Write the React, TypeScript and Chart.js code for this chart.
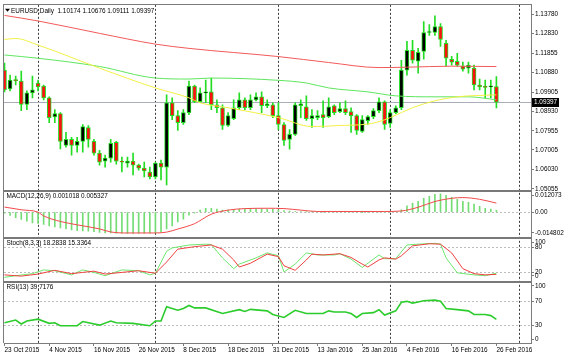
import { useEffect, useRef } from 'react';
import { Chart, registerables } from 'chart.js';

Chart.register(...registerables);

const FONT = '"Liberation Sans", Arial, sans-serif';
const FONT_SIZE = 6.4;

// Bars: 0 = 23 Oct 2015 ... 88 = 26 Feb 2016
const dateTickBars = [0, 8, 16, 24, 32, 40, 48, 56, 64, 72, 80, 88];
const dateTickLabels = ['23 Oct 2015', '4 Nov 2015', '16 Nov 2015', '26 Nov 2015', '8 Dec 2015', '18 Dec 2015', '31 Dec 2015', '13 Jan 2016', '25 Jan 2016', '4 Feb 2016', '16 Feb 2016', '26 Feb 2016'];
const monthSeparatorBars = [6, 27, 49, 69, 92];

const opens = [1.11003, 1.1006, 1.10507, 1.10457, 1.09282, 1.09862, 1.10358, 1.10209, 1.09614, 1.08657, 1.0882, 1.07233, 1.0753, 1.07233, 1.07432, 1.08126, 1.07432, 1.06838, 1.0644, 1.06589, 1.07382, 1.0644, 1.0634, 1.0644, 1.06241, 1.06092, 1.05894, 1.05646, 1.0634, 1.06142, 1.09366, 1.08721, 1.08374, 1.0887, 1.10209, 1.09416, 1.09862, 1.09912, 1.09267, 1.09118, 1.08225, 1.08573, 1.09118, 1.09515, 1.09118, 1.09515, 1.09664, 1.09217, 1.09267, 1.08721, 1.08275, 1.0753, 1.07778, 1.09217, 1.09168, 1.08574, 1.08622, 1.08771, 1.08672, 1.09217, 1.0892, 1.09069, 1.0892, 1.08721, 1.07928, 1.08474, 1.08672, 1.0897, 1.09416, 1.08326, 1.0887, 1.09118, 1.11003, 1.11995, 1.11449, 1.11945, 1.12888, 1.12888, 1.13185, 1.12342, 1.11548, 1.11449, 1.11201, 1.11102, 1.11102, 1.10259, 1.1016, 1.1016, 1.10174];
const highs = [1.1135, 1.10755, 1.10705, 1.10953, 1.09961, 1.10705, 1.10507, 1.10259, 1.09664, 1.09019, 1.0887, 1.07878, 1.0763, 1.0763, 1.08275, 1.08225, 1.0753, 1.06985, 1.06738, 1.0753, 1.0743, 1.06638, 1.06638, 1.06838, 1.06291, 1.0639, 1.06142, 1.0639, 1.0649, 1.09763, 1.09614, 1.08969, 1.09019, 1.10457, 1.10259, 1.1011, 1.10507, 1.10606, 1.09515, 1.09267, 1.0887, 1.09515, 1.09862, 1.09614, 1.09763, 1.09862, 1.09912, 1.09515, 1.09366, 1.09366, 1.08374, 1.08027, 1.09366, 1.09515, 1.09713, 1.09019, 1.08969, 1.09465, 1.09614, 1.09267, 1.09366, 1.09465, 1.09118, 1.08771, 1.08721, 1.08721, 1.09069, 1.09614, 1.09465, 1.09019, 1.09217, 1.11498, 1.12441, 1.12491, 1.12094, 1.13433, 1.13284, 1.13731, 1.13334, 1.12491, 1.11697, 1.11846, 1.114, 1.114, 1.11251, 1.10556, 1.10507, 1.10507, 1.10676];
const lows = [1.09912, 1.09961, 1.10259, 1.08969, 1.09019, 1.09614, 1.09961, 1.09515, 1.08374, 1.08374, 1.0705, 1.07134, 1.06738, 1.06886, 1.06886, 1.07134, 1.06738, 1.06241, 1.06142, 1.0639, 1.06291, 1.05894, 1.06142, 1.05745, 1.05993, 1.05646, 1.05546, 1.05546, 1.05497, 1.05249, 1.08523, 1.07978, 1.08275, 1.08771, 1.09366, 1.09366, 1.09366, 1.09019, 1.0887, 1.08027, 1.08175, 1.08523, 1.09019, 1.09019, 1.09019, 1.09465, 1.0887, 1.09118, 1.08622, 1.08027, 1.07233, 1.07035, 1.07729, 1.08622, 1.08475, 1.08126, 1.08523, 1.08126, 1.08622, 1.08771, 1.0887, 1.08771, 1.07878, 1.07778, 1.07878, 1.08275, 1.08573, 1.0887, 1.08027, 1.08126, 1.0882, 1.09019, 1.10755, 1.1135, 1.10854, 1.11548, 1.12739, 1.12739, 1.12193, 1.11201, 1.11251, 1.11201, 1.10953, 1.10854, 1.10011, 1.10011, 1.09614, 1.09614, 1.09111];
const closes = [1.10011, 1.10507, 1.1048, 1.09282, 1.09862, 1.10011, 1.1016, 1.09614, 1.08622, 1.0882, 1.07432, 1.0753, 1.07233, 1.07432, 1.08176, 1.0753, 1.06838, 1.0639, 1.06589, 1.07332, 1.0644, 1.0639, 1.0644, 1.06241, 1.06092, 1.05944, 1.05646, 1.0634, 1.06142, 1.09366, 1.08721, 1.08374, 1.0887, 1.10209, 1.09416, 1.09862, 1.09912, 1.09267, 1.09118, 1.08225, 1.08721, 1.09118, 1.09515, 1.09118, 1.09515, 1.09664, 1.09217, 1.09316, 1.08721, 1.08275, 1.07481, 1.07778, 1.09267, 1.09316, 1.08574, 1.08723, 1.08723, 1.08622, 1.09168, 1.0887, 1.09069, 1.0887, 1.08721, 1.07978, 1.08523, 1.08672, 1.0897, 1.09416, 1.08275, 1.0887, 1.09118, 1.11003, 1.11995, 1.11498, 1.11896, 1.12888, 1.12937, 1.13185, 1.1254, 1.11598, 1.114, 1.11251, 1.11052, 1.11251, 1.10259, 1.1016, 1.10135, 1.10174, 1.09397];

// Moving averages: [bar, price]
const maRed = [[0, 1.13746], [6, 1.13468], [17, 1.12846], [27, 1.12307], [33, 1.12094], [49, 1.11682], [58, 1.11385], [67, 1.1113], [72, 1.1115], [80, 1.112], [88, 1.1118]];
const maYellow = [[0, 1.1254], [2, 1.1259], [6, 1.12258], [17, 1.11102], [27, 1.1011], [33, 1.09614], [35, 1.09366], [40, 1.09118], [49, 1.08622], [55, 1.08176], [60, 1.08225], [65, 1.083], [67, 1.0842], [69, 1.08622], [73, 1.09118], [77, 1.09465], [81, 1.09664], [88, 1.09763]];
const maGreen = [[0, 1.11762], [6, 1.11598], [17, 1.11186], [27, 1.10606], [33, 1.10556], [37, 1.10606], [49, 1.10492], [54, 1.10358], [58, 1.1011], [65, 1.09912], [70, 1.09713], [77, 1.09664], [83, 1.09664], [88, 1.09515]];

const macdMain = [-0.0006, -0.0019, -0.0033, -0.0043, -0.0053, -0.0063, -0.0067, -0.0072, -0.0082, -0.0088, -0.0093, -0.0099, -0.0105, -0.0109, -0.0111, -0.0112, -0.0116, -0.012, -0.0122, -0.0123, -0.0124, -0.0124, -0.0125, -0.0125, -0.0124, -0.0124, -0.0123, -0.0122, -0.0117, -0.0099, -0.0082, -0.0058, -0.0041, -0.0018, -0.0006, 0.0012, 0.0023, 0.0023, 0.0018, 0.0012, 0.0012, 0.0015, 0.0018, 0.002, 0.0021, 0.002, 0.0019, 0.0018, 0.0016, 0.0014, 0.001, 0.0006, 0.0004, 0.0003, 0.0002, 0.0001, 0.0001, 0.0, 0.0001, 0.0001, 0.0002, 0.0002, 0.0001, 0.0, -0.0001, 0.0, 0.0001, 0.0002, 0.0001, 0.0002, 0.0004, 0.0014, 0.0037, 0.0053, 0.0064, 0.0082, 0.0093, 0.0105, 0.0108, 0.0099, 0.0088, 0.0076, 0.0064, 0.0058, 0.0047, 0.0035, 0.0023, 0.0018, 0.001018];
const macdSignal = [[0, 0.003], [3, 0.0014], [6, 0.0], [7, -0.0022], [10, -0.0055], [13, -0.0075], [17, -0.0099], [19, -0.0117], [22, -0.0123], [27, -0.0123], [29, -0.0118], [31, -0.01], [34, -0.0068], [37, -0.0012], [40, 0.0012], [43, 0.0021], [47, 0.0023], [50, 0.0021], [53, 0.0012], [56, 0.0004], [68, 0.0004], [71, 0.0007], [74, 0.0029], [77, 0.0063], [80, 0.0082], [82, 0.0086], [85, 0.0076], [88, 0.005327]];

const stochMain = [[0, 8], [2, 12], [5, 17], [7, 26], [9, 24], [12, 14], [14, 26], [16, 20], [18, 12], [21, 26], [24, 24], [26, 14], [27, 18], [29, 71], [30, 79], [33, 86], [36, 88], [37, 87], [39, 55], [41, 29], [42, 40], [45, 55], [47, 67], [49, 60], [50, 21], [52, 40], [54, 67], [56, 62], [59, 62], [60, 65], [62, 52], [64, 32], [67, 62], [68, 53], [70, 53], [72, 86], [74, 88], [77, 90], [78, 88], [79, 55], [81, 19], [84, 14], [86, 12], [88, 18.2838]];
const stochSignal = [[0, 14], [3, 11], [6, 16], [9, 25], [12, 17], [14, 20], [16, 23], [18, 16], [21, 20], [24, 24], [27, 18], [29, 45], [31, 76], [34, 82], [37, 86], [39, 76], [41, 50], [42, 33], [44, 42], [47, 64], [49, 58], [50, 36], [52, 25], [54, 50], [55, 64], [57, 62], [60, 65], [62, 56], [64, 40], [65, 33], [67, 50], [68, 55], [70, 52], [71, 60], [73, 84], [76, 89], [78, 88], [80, 67], [82, 29], [84, 17], [86, 14], [88, 15.3364]];

const rsi = [[0, 34], [2, 38.5], [3, 32], [4, 37], [6, 40], [8, 33], [9, 34], [10, 29], [13, 29], [14, 36], [17, 30], [19, 37], [20, 34], [23, 33], [26, 29], [27, 37], [28, 37], [29, 61], [30, 58], [31, 55], [32, 58], [33, 63], [34, 59], [36, 59], [39, 49.5], [42, 56], [43, 53], [44, 56.5], [47, 54], [48, 48], [50, 43], [52, 55], [54, 49.5], [57, 49.5], [58, 54], [59, 52], [61, 52], [62, 49.5], [63, 43], [64, 49.5], [66, 51], [67, 56], [68, 47], [70, 54], [71, 68.5], [72, 70], [73, 67], [74, 69], [75, 71], [77, 72], [78, 70], [79, 58], [81, 56], [83, 54], [84, 48], [86, 48], [87, 46], [88, 39.7176]];

// Axis labels (value where MT4 places each label, and its text)
const priceTicks = [1.1378, 1.1283, 1.11855, 1.1088, 1.09905, 1.0893, 1.07955, 1.07005, 1.0603, 1.05055];
const macdTickPos = [0.00974, 0, -0.01229];
const macdTickText = ['0.012073', '0.00', '-0.014802'];
const stochTickPos = [92.9, 80, 20, 11.9];
const stochTickText = ['100', '80', '20', '0'];
const rsiTickPos = [95.8, 70, 30, 6.1];
const rsiTickText = ['100', '70', '30', '0'];

const levelLines: [string, number][] = [['yMacd', 0], ['yStoch', 80], ['yStoch', 20], ['yRsi', 70], ['yRsi', 30]];

const mainTitle = 'EURUSD,Daily  1.10174 1.10676 1.09111 1.09397';
const macdTitle = 'MACD(12,26,9) 0.001018 0.005327';
const stochTitle = 'Stoch(8,3,3) 18.2838 15.3364';
const rsiTitle = 'RSI(13) 39.7176';

const pts = (arr: number[][]) => arr.map(([x, y]) => ({ x, y }));

const AXIS_GRAY = '#7c7c7c';
const CANDLE_GREEN = '#22dd22';

function yAxis(weight: number, min: number, max: number, pos: number[], text: string[]) {
  return {
    type: 'linear',
    position: 'right',
    stack: 'panels',
    stackWeight: weight,
    min,
    max,
    afterBuildTicks: (s: any) => { s.ticks = pos.map((v) => ({ value: v })); },
    afterFit: (s: any) => { s.width = 39; },
    ticks: {
      autoSkip: false,
      padding: 1,
      color: '#000',
      font: { family: FONT, size: FONT_SIZE },
      callback: (_v: any, i: number) => text[i],
    },
    grid: { drawOnChartArea: false, drawTicks: true, tickLength: 3, tickColor: AXIS_GRAY },
    border: { color: AXIS_GRAY, width: 1 },
  };
}

const decor = {
  id: 'mt4decor',
  beforeDatasetsDraw(chart: any) {
    const { ctx, chartArea: a, scales } = chart;
    ctx.save();
    ctx.lineWidth = 1;
    // period separators
    ctx.strokeStyle = '#3a3a3a';
    ctx.setLineDash([2, 2]);
    monthSeparatorBars.forEach((b) => {
      const x = Math.round(scales.x.getPixelForValue(b)) + 0.5;
      ctx.beginPath();
      ctx.moveTo(x, a.top);
      ctx.lineTo(x, a.bottom);
      ctx.stroke();
    });
    // indicator levels
    ctx.strokeStyle = '#bdbdbd';
    levelLines.forEach(([id, v]) => {
      const y = Math.round(scales[id].getPixelForValue(v)) + 0.5;
      ctx.beginPath();
      ctx.moveTo(a.left, y);
      ctx.lineTo(a.right, y);
      ctx.stroke();
    });
    // current price line
    ctx.setLineDash([]);
    ctx.strokeStyle = '#a9adb8';
    const yp = Math.round(scales.y.getPixelForValue(closes[closes.length - 1])) + 0.5;
    ctx.beginPath();
    ctx.moveTo(a.left, yp);
    ctx.lineTo(a.right, yp);
    ctx.stroke();
    ctx.restore();
  },
  afterDraw(chart: any) {
    const { ctx, chartArea: a, scales } = chart;
    ctx.save();
    // panel separators
    ctx.fillStyle = '#787878';
    ['yMacd', 'yStoch', 'yRsi'].forEach((id) => {
      const t = Math.round(scales[id].top);
      ctx.fillRect(a.left - 1, t - 1, a.right - a.left + 1, 2);
    });
    // frame left & top
    ctx.fillStyle = AXIS_GRAY;
    ctx.fillRect(Math.round(a.left) - 1, Math.round(a.top) - 1, 1, a.bottom - a.top + 1);
    ctx.fillRect(Math.round(a.left) - 1, Math.round(a.top) - 1, a.right - a.left + 1, 1);
    // titles
    ctx.fillStyle = '#000';
    ctx.font = `${FONT_SIZE}px ${FONT}`;
    ctx.textBaseline = 'middle';
    ctx.textAlign = 'left';
    ctx.beginPath();
    ctx.moveTo(a.left + 1, scales.y.top + 4);
    ctx.lineTo(a.left + 6, scales.y.top + 4);
    ctx.lineTo(a.left + 3.5, scales.y.top + 7);
    ctx.closePath();
    ctx.fill();
    ctx.fillText(mainTitle, a.left + 7, scales.y.top + 6);
    ctx.fillText(macdTitle, a.left + 2.5, scales.yMacd.top + 6);
    ctx.fillText(stochTitle, a.left + 2.5, scales.yStoch.top + 5.5);
    ctx.fillText(rsiTitle, a.left + 2.5, scales.yRsi.top + 6);
    // current price label
    const last = closes[closes.length - 1];
    const yp = scales.y.getPixelForValue(last);
    ctx.fillStyle = '#000';
    ctx.fillRect(a.right + 1, Math.round(yp) - 4, 27, 9);
    ctx.fillStyle = '#fff';
    ctx.fillText(last.toFixed(5), a.right + 3, Math.round(yp) + 0.5);
    ctx.restore();
  },
};

export default function App() {
  const ref = useRef<HTMLCanvasElement>(null);

  useEffect(() => {
    const canvas = ref.current;
    if (!canvas) return;

    const bodies = opens.map((o, i) => ({ x: i, y: [o, closes[i]] }));
    const wicks = lows.map((l, i) => ({ x: i, y: [l, highs[i]] }));
    const bodyColors = opens.map((o, i) => (closes[i] > o ? '#000000' : '#ff1010'));

    const chart = new Chart(canvas, {
      type: 'bar',
      data: {
        datasets: [
          { type: 'line', data: pts(maRed), yAxisID: 'y', borderColor: '#f25a5a', borderWidth: 1, pointRadius: 0, cubicInterpolationMode: 'monotone' },
          { type: 'line', data: pts(maYellow), yAxisID: 'y', borderColor: '#f2f046', borderWidth: 1, pointRadius: 0, cubicInterpolationMode: 'monotone' },
          { type: 'line', data: pts(maGreen), yAxisID: 'y', borderColor: '#5ee65e', borderWidth: 1, pointRadius: 0, cubicInterpolationMode: 'monotone' },
          { type: 'bar', data: bodies, yAxisID: 'y', backgroundColor: bodyColors, borderColor: CANDLE_GREEN, borderWidth: 1, borderSkipped: false, barThickness: 4, minBarLength: 1, grouped: false },
          { type: 'bar', data: wicks, yAxisID: 'y', backgroundColor: CANDLE_GREEN, borderWidth: 0, barThickness: 1, grouped: false },
          { type: 'line', data: pts(macdSignal), yAxisID: 'yMacd', borderColor: '#f24a4a', borderWidth: 1, pointRadius: 0, cubicInterpolationMode: 'monotone' },
          { type: 'bar', data: macdMain.map((v, i) => ({ x: i, y: v })), yAxisID: 'yMacd', backgroundColor: '#74dc74', borderWidth: 0, barThickness: 1, grouped: false },
          { type: 'line', data: pts(stochSignal), yAxisID: 'yStoch', borderColor: '#f04040', borderWidth: 1, pointRadius: 0, tension: 0 },
          { type: 'line', data: pts(stochMain), yAxisID: 'yStoch', borderColor: '#6ee66e', borderWidth: 1, pointRadius: 0, tension: 0 },
          { type: 'line', data: pts(rsi), yAxisID: 'yRsi', borderColor: '#2ccc2c', borderWidth: 1.6, pointRadius: 0, tension: 0 },
        ] as any,
      },
      options: {
        responsive: false,
        animation: false,
        devicePixelRatio: 1,
        events: [],
        layout: { padding: { left: 4, top: 1, right: 0, bottom: 0 } },
        plugins: { legend: { display: false }, tooltip: { enabled: false }, title: { display: false } },
        scales: {
          x: {
            type: 'linear',
            min: -0.089,
            max: 94.19,
            offset: false,
            afterBuildTicks: (s: any) => { s.ticks = dateTickBars.map((v) => ({ value: v })); },
            afterFit: (s: any) => { s.height = 15; },
            ticks: {
              autoSkip: false,
              maxRotation: 0,
              minRotation: 0,
              align: 'start',
              padding: 0,
              color: '#000',
              font: { family: FONT, size: FONT_SIZE },
              callback: (_v: any, i: number) => dateTickLabels[i],
            },
            grid: { drawOnChartArea: false, drawTicks: true, tickLength: 3, tickColor: AXIS_GRAY, offset: false },
            border: { color: AXIS_GRAY, width: 1 },
          },
          y: yAxis(188, 1.04956, 1.14276, priceTicks, priceTicks.map((v) => v.toFixed(5))),
          yMacd: yAxis(48, -0.015386, 0.012657, macdTickPos, macdTickText),
          yStoch: yAxis(44, -2.4, 102.4, stochTickPos, stochTickText),
          yRsi: yAxis(62, 0, 103, rsiTickPos, rsiTickText),
        } as any,
      },
      plugins: [decor],
    } as any);

    return () => chart.destroy();
  }, []);

  return (
    <div style={{ position: 'fixed', left: 0, top: 0, width: 570, height: 358, background: '#ffffff' }}>
      <canvas ref={ref} width={570} height={358} style={{ display: 'block', width: 570, height: 358 }} />
    </div>
  );
}
